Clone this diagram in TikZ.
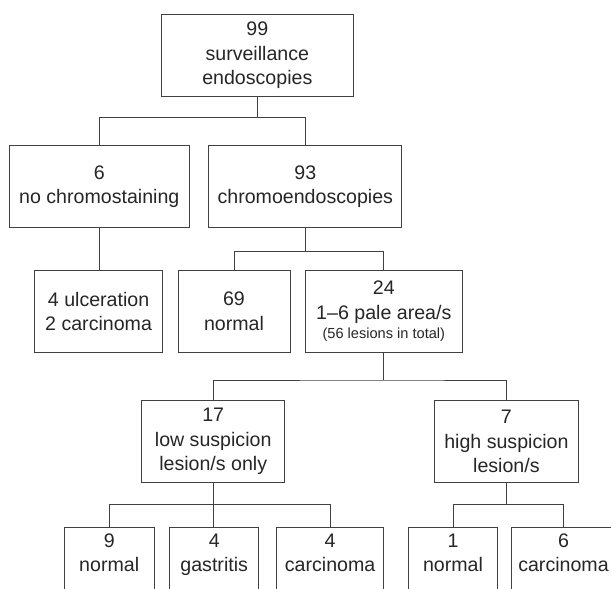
\documentclass[tikz,border=0pt]{standalone}
\usepackage{fontspec}
\setmainfont{Liberation Sans}
\usetikzlibrary{calc}
\begin{document}
\begin{tikzpicture}[x=1pt,y=-1pt,
  box/.style={draw=black!75, line width=0.9pt, inner sep=0pt, align=center,
    minimum height=82pt, text=black!85,
    font=\fontsize{19.6}{24.5}\selectfont},
  conn/.style={draw=black!75, line width=0.9pt}]
\useasboundingbox (0,0) rectangle (611,589);
\clip (0,0) rectangle (611,589);
% level 0
\node[box, minimum width=192pt] (top) at (257.3,55.5) {99\\surveillance\\endoscopies};
% level 1
\node[box, minimum width=180pt] (nochrom) at (99.3,186.5) {6\\no chromostaining};
\node[box, minimum width=193pt] (chromo) at (305.3,186.5) {93\\chromoendoscopies};
% level 2
\node[box, minimum width=127.7pt] (ulc) at (98.6,311.3) {4 ulceration\\2 carcinoma};
\node[box, minimum width=112pt] (norm69) at (234,311.3) {69\\normal};
\node[box, minimum width=157.6pt] (pale) at (383.8,311.3) {24\\1–6 pale area/s\\[-5pt]{\fontsize{14.6}{17}\selectfont (56 lesions in total)}};
% level 3
\node[box, minimum width=143.3pt] (low) at (213.2,441.7) {17\\low suspicion\\lesion/s only};
\node[box, minimum width=143.8pt] (high) at (506.4,441.7) {7\\high suspicion\\lesion/s};
% level 4
\node[box, minimum width=89.7pt] (bnorm1) at (109.2,568.7) {9\\normal\\\strut};
\node[box, minimum width=89.3pt] (bgast) at (214.2,568.7) {4\\gastritis\\\strut};
\node[box, minimum width=107.6pt] (bcarc1) at (330.1,568.7) {4\\carcinoma\\\strut};
\node[box, minimum width=89.3pt] (bnorm2) at (453,568.7) {1\\normal\\\strut};
\node[box, minimum width=103.6pt] (bcarc2) at (563.5,568.7) {6\\carcinoma\\\strut};
% junctions
\coordinate (j0) at (top.south |- 0,117.7);
\coordinate (j1) at (chromo.south |- 0,251.7);
\coordinate (j2) at (pale.south |- 0,380);
\coordinate (j3) at (low.south |- 0,504.7);
\coordinate (j4) at (high.south |- 0,504.7);
% connectors
\draw[conn] (top.south) -- (j0);
\draw[conn] (nochrom.north) |- (j0) -| (chromo.north);
\draw[conn] (nochrom.south) -- (nochrom.south |- ulc.north);
\draw[conn] (chromo.south) -- (j1);
\draw[conn] (norm69.north) |- (j1) -| (pale.north);
\draw[conn] (pale.south) -- (j2);
\draw[conn] (low.north) |- (j2) -| (high.north);
\draw[conn] (low.south) -- (low.south |- bgast.north);
\draw[conn] (bnorm1.north) |- (j3) -| (bcarc1.north);
\draw[conn] (high.south) -- (j4);
\draw[conn] (bnorm2.north) |- (j4) -| (bcarc2.north);
\end{tikzpicture}
\end{document}
